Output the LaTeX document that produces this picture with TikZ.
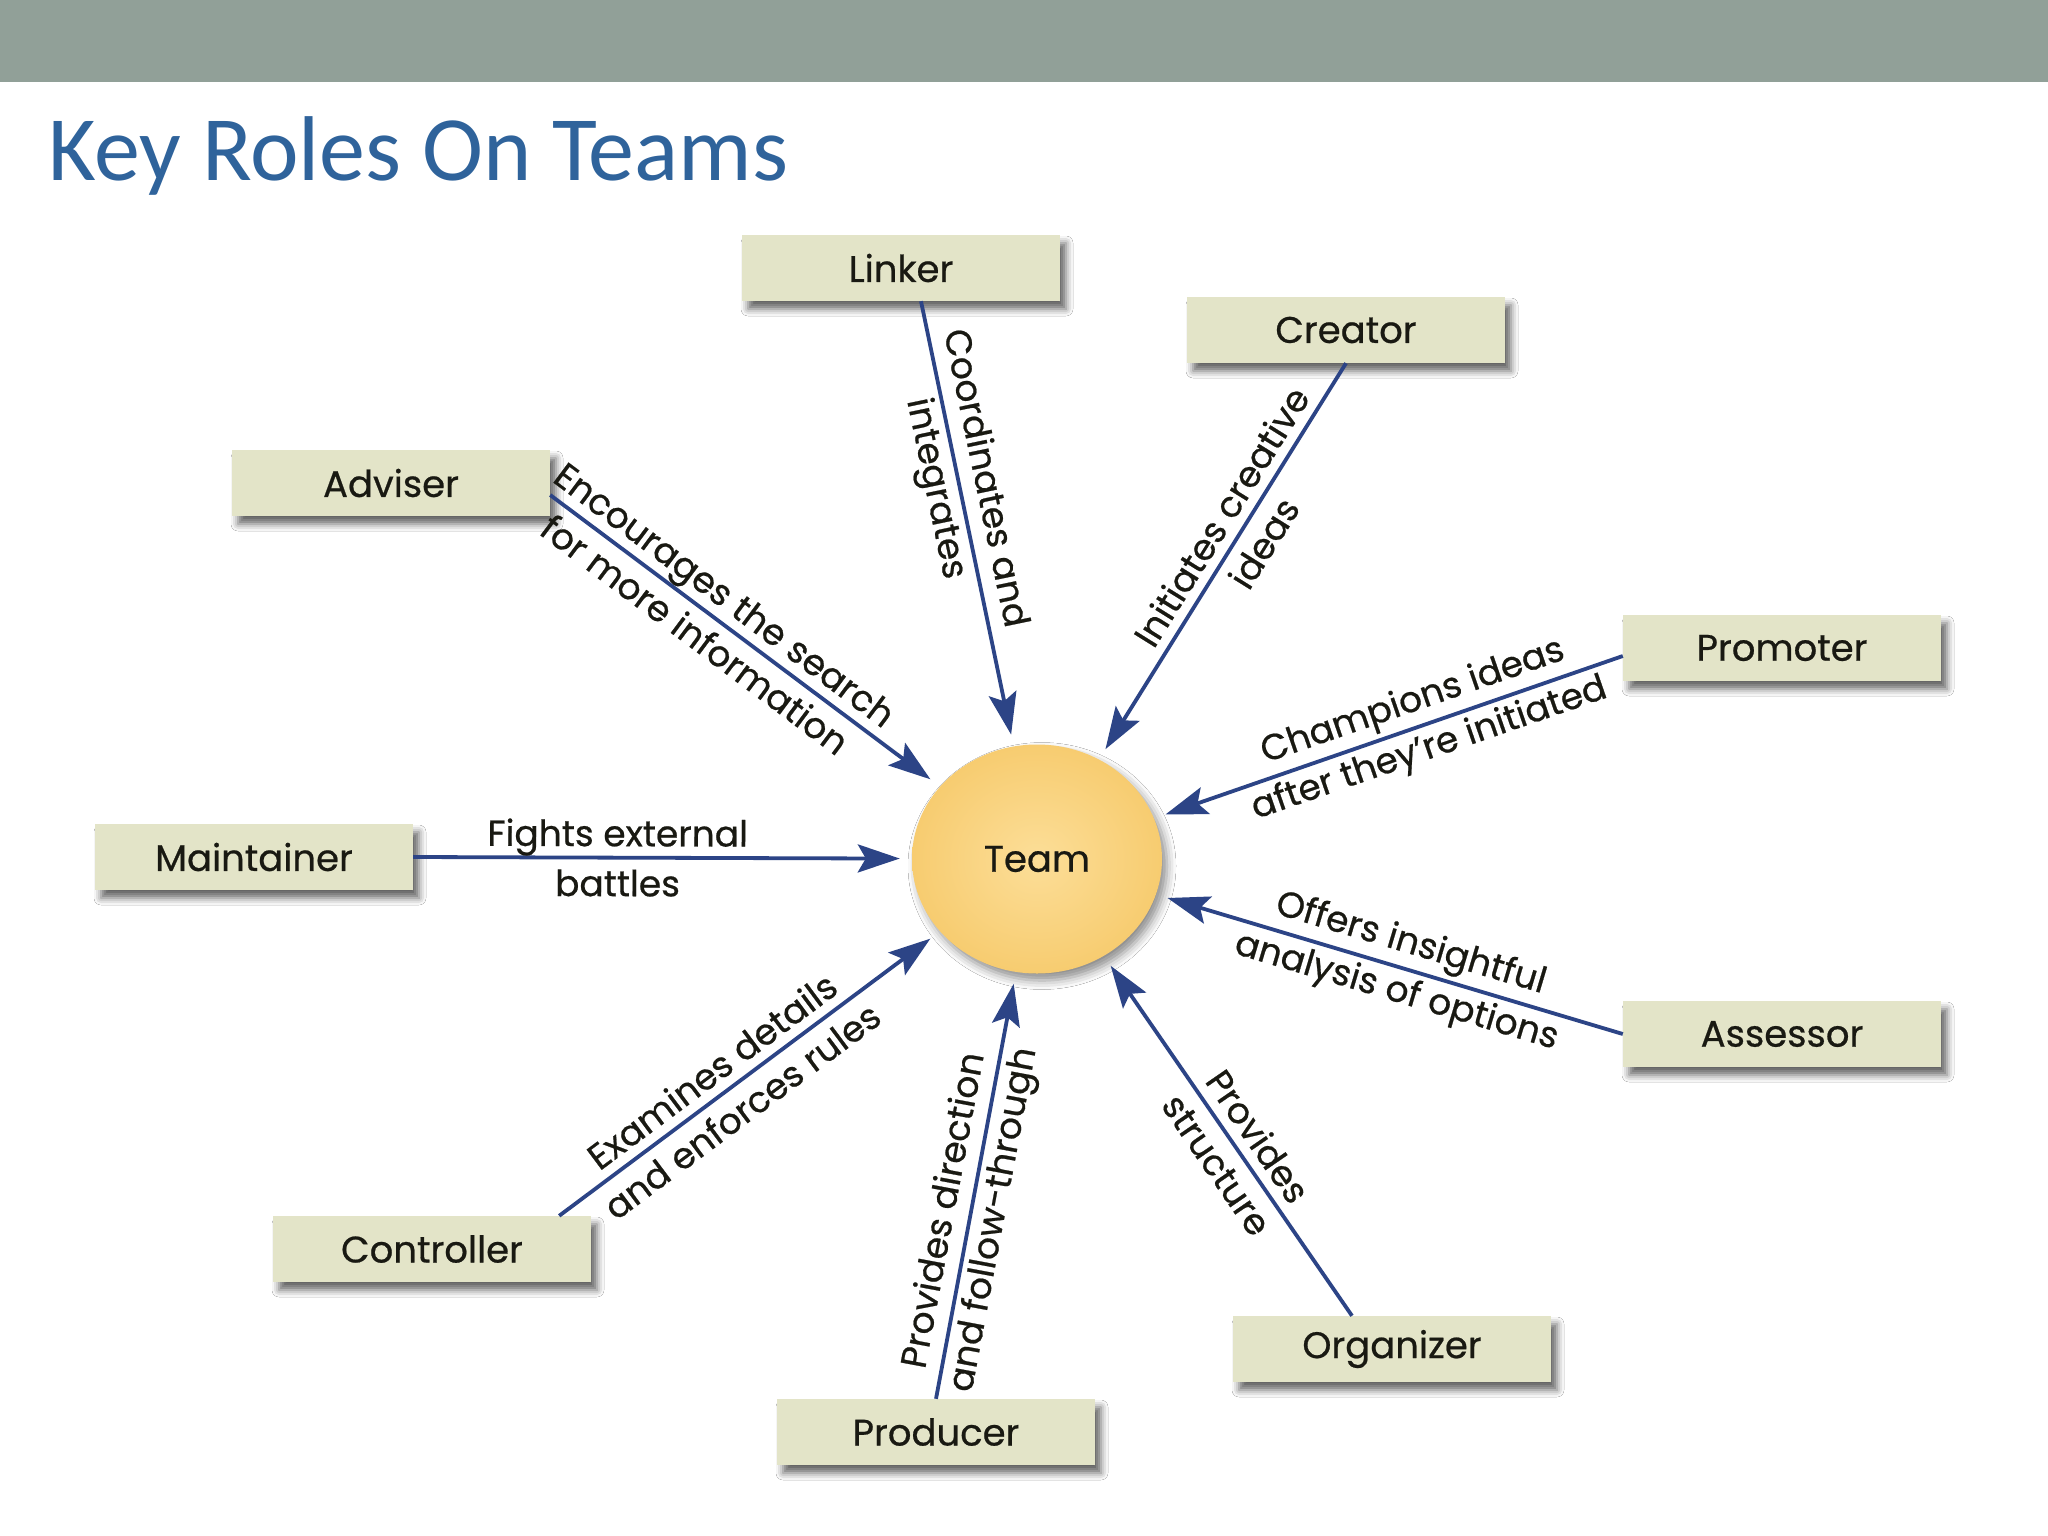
\documentclass[tikz,border=0pt]{standalone}
\usepackage{fontspec}
\setmainfont{Poppins}[FakeBold=0.6]
\newfontfamily\titlefont{Carlito}
\usetikzlibrary{shapes.geometric,arrows.meta,shadows.blur}
\definecolor{band}{RGB}{145,160,152}
\definecolor{titleblue}{RGB}{47,99,155}
\definecolor{boxfill}{RGB}{227,228,200}
\definecolor{arrowblue}{RGB}{44,68,134}
\definecolor{teamin}{RGB}{252,222,152}
\definecolor{teamout}{RGB}{247,204,112}
\definecolor{inkdark}{RGB}{25,25,18}
\begin{document}
\begin{tikzpicture}[x=1pt,y=-1pt,
  rolebox/.style={rectangle, fill=boxfill, minimum width=318pt, minimum height=66pt, inner sep=0pt, text=inkdark, font=\fontsize{37}{44}\selectfont, blur shadow={shadow xshift=6pt, shadow yshift=-8pt, shadow blur radius=7pt, shadow opacity=60}},
  conn/.style={draw=arrowblue, line width=3.8pt, -{Stealth[length=42pt,width=28pt,inset=8pt]}, shorten >=12pt},
  lab/.style={sloped, align=center, font=\fontsize{36}{50}\selectfont, text=inkdark, inner sep=0pt}
]
\useasboundingbox (0,0) rectangle (2048,1536);
\fill[white] (0,0) rectangle (2048,1536);
\fill[band] (0,0) rectangle (2048,82);
\node[anchor=base west, inner sep=0pt, text=titleblue, font=\titlefont\fontsize{92}{100}\selectfont] (title) at (48,180) {Key Roles On Teams};

\node[rolebox] (linker) at (901,268) {Linker};
\node[rolebox] (creator) at (1346,330) {Creator};
\node[rolebox] (adviser) at (391,483) {Adviser};
\node[rolebox] (promoter) at (1782,648) {Promoter};
\node[rolebox] (maintainer) at (254,857) {Maintainer};
\node[rolebox] (assessor) at (1782,1034) {Assessor};
\node[rolebox] (controller) at (432,1249) {Controller};
\node[rolebox] (organizer) at (1392,1349) {Organizer};
\node[rolebox] (producer) at (936,1432) {Producer};

\node[ellipse, minimum width=250pt, minimum height=229pt, inner sep=0pt, inner color=teamin, outer color=teamout, blur shadow={shadow xshift=5pt, shadow yshift=-7pt, shadow blur radius=9pt, shadow opacity=45}, text=inkdark, font=\fontsize{37}{44}\selectfont] (team) at (1037,859) {Team};

\draw[conn] ([xshift=20pt]linker.south) -- node[lab,pos=0.41]{Coordinates and\\integrates} (team);
\draw[conn] (creator.south) -- node[lab,pos=0.42]{Initiates creative\\ideas} (team);
\draw[conn] ([yshift=-12pt]adviser.east) -- node[lab,pos=0.41]{Encourages the search\\for more information} (team);
\draw[conn] ([yshift=-8pt]promoter.west) -- node[lab,pos=0.43]{Champions ideas\\after they're initiated} (team);
\draw[conn] (maintainer.east) -- node[lab,pos=0.41]{Fights external\\battles} (team);
\draw[conn] (assessor.west) -- node[lab,pos=0.47]{Offers insightful\\analysis of options} (team);
\draw[conn] ([xshift=-32pt]controller.north east) -- node[lab,pos=0.44]{Examines details\\and enforces rules} (team);
\draw[conn] (producer.north) -- node[lab,pos=0.43]{Provides direction\\and follow-through} (team);
\draw[conn] ([xshift=-40pt]organizer.north) -- node[lab,pos=0.46]{Provides\\structure} (team);
\end{tikzpicture}
\end{document}
